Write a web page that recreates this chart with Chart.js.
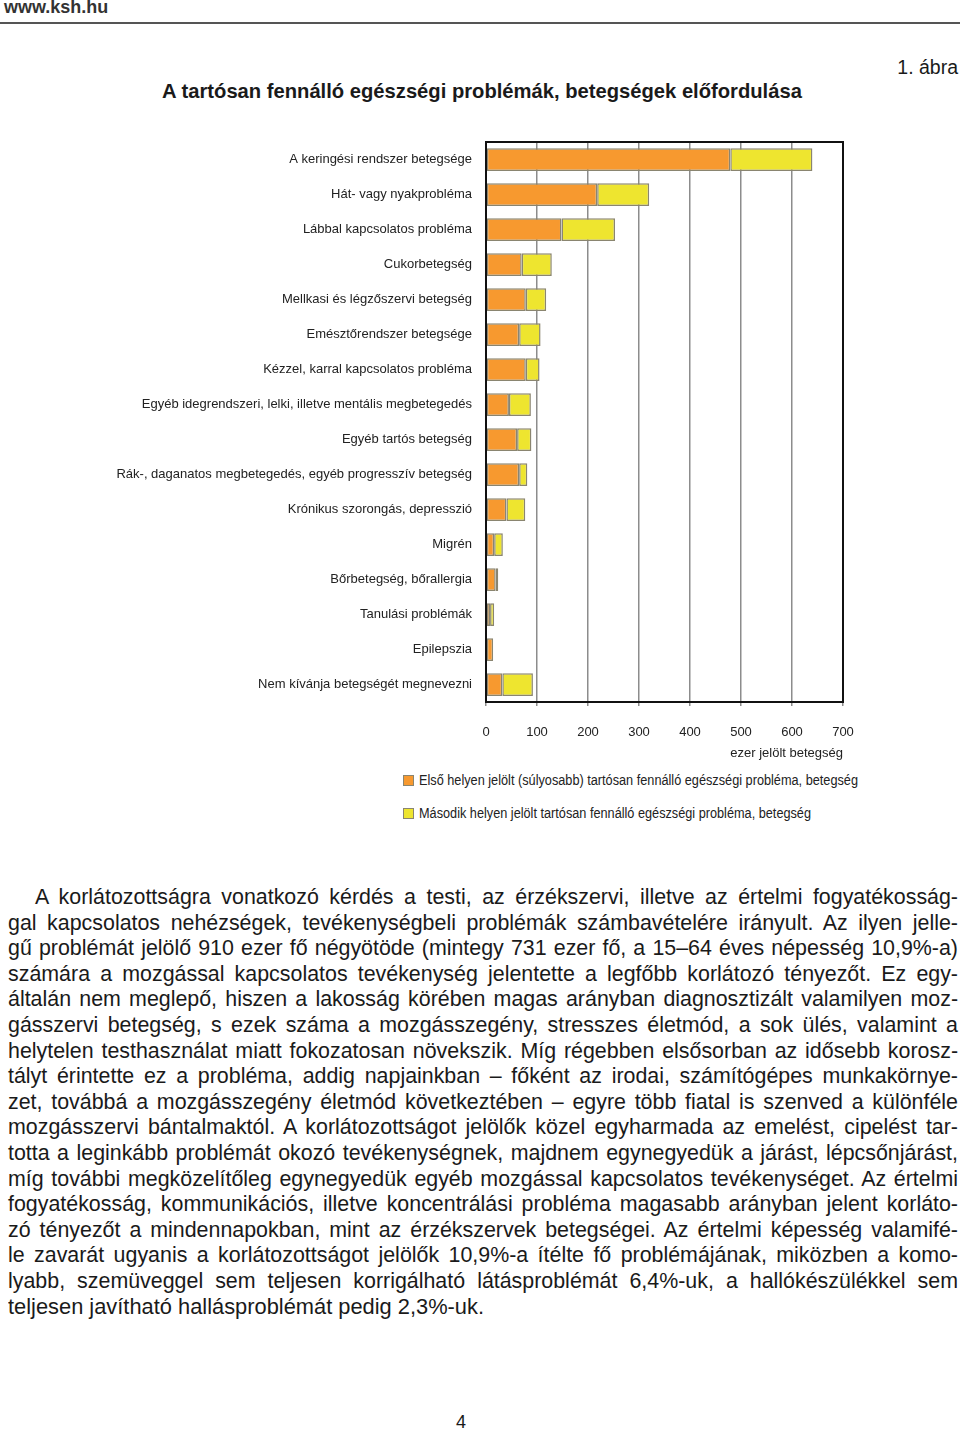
<!DOCTYPE html>
<html><head><meta charset="utf-8">
<script src="https://cdn.jsdelivr.net/npm/chart.js@4.4.0/dist/chart.umd.min.js"></script>
<style>
html,body{margin:0;padding:0;background:#fff;}
body{width:960px;height:1431px;position:relative;overflow:hidden;font-family:'Liberation Sans',Arial,sans-serif;color:#1a1a1a;}
.abs{position:absolute;white-space:nowrap;}
#site{left:4px;top:-3px;font-weight:bold;font-size:18px;color:#333;}
#rule{position:absolute;left:0;top:22px;width:960px;height:2px;background:#555;}
#fig{right:2px;top:56px;font-size:19.5px;}
#title{left:0;width:964px;text-align:center;top:80px;font-weight:bold;font-size:20.2px;}
#chartbox{position:absolute;left:0;top:130px;width:870px;height:632px;}
.leg{left:403px;font-size:14px;color:#222;}
.leg .tx{display:inline-block;transform-origin:0 50%;}
.sw{display:inline-block;width:9px;height:9px;border:1px solid #8a8570;vertical-align:-1px;margin-right:5px;}
.ln{position:absolute;white-space:nowrap;font-size:21.4px;line-height:25.6px;color:#1a1a1a;}
#pg{left:456px;top:1412px;font-size:18px;}
</style>
</head><body>
<div class="abs" id="site">www.ksh.hu</div>
<div id="rule"></div>
<div class="abs" id="fig">1. ábra</div>
<div class="abs" id="title">A tartósan fennálló egészségi problémák, betegségek előfordulása</div>
<div id="chartbox"><canvas id="c"></canvas></div>
<div class="abs leg" id="leg1" style="top:772px;"><span class="sw" style="background:#F7992F"></span><span class="tx"></span></div>
<div class="abs leg" id="leg2" style="top:805px;"><span class="sw" style="background:#EEE52F"></span><span class="tx"></span></div>
<div id="para"></div>
<div class="abs" id="pg">4</div>
<script>
const categories = [
  'A keringési rendszer betegsége',
  'Hát- vagy nyakprobléma',
  'Lábbal kapcsolatos probléma',
  'Cukorbetegség',
  'Mellkasi és légzőszervi betegség',
  'Emésztőrendszer betegsége',
  'Kézzel, karral kapcsolatos probléma',
  'Egyéb idegrendszeri, lelki, illetve mentális megbetegedés',
  'Egyéb tartós betegség',
  'Rák-, daganatos megbetegedés, egyéb progresszív betegség',
  'Krónikus szorongás, depresszió',
  'Migrén',
  'Bőrbetegség, bőrallergia',
  'Tanulási problémák',
  'Epilepszia',
  'Nem kívánja betegségét megnevezni'
];
const firstPlace  = [479, 218, 148, 70, 78, 65, 78, 45, 61, 65, 40, 16, 19, 8, 14, 32];
const secondPlace = [161, 102, 105, 59, 40, 42, 27, 43, 28, 16, 37, 17, 5, 8, 0, 60];
const xTicks = [0, 100, 200, 300, 400, 500, 600, 700];
const seriesNames = [
  'Első helyen jelölt (súlyosabb) tartósan fennálló egészségi probléma, betegség',
  'Második helyen jelölt tartósan fennálló egészségi probléma, betegség'
];
const axisTitle = 'ezer jelölt betegség';

const paraLines = [
  'A korlátozottságra vonatkozó kérdés a testi, az érzékszervi, illetve az értelmi fogyatékosság-',
  'gal kapcsolatos nehézségek, tevékenységbeli problémák számbavételére irányult. Az ilyen jelle-',
  'gű problémát jelölő 910 ezer fő négyötöde (mintegy 731 ezer fő, a 15–64 éves népesség 10,9%-a)',
  'számára a mozgással kapcsolatos tevékenység jelentette a legfőbb korlátozó tényezőt. Ez egy-',
  'általán nem meglepő, hiszen a lakosság körében magas arányban diagnosztizált valamilyen moz-',
  'gásszervi betegség, s ezek száma a mozgásszegény, stresszes életmód, a sok ülés, valamint a',
  'helytelen testhasználat miatt fokozatosan növekszik. Míg régebben elsősorban az idősebb korosz-',
  'tályt érintette ez a probléma, addig napjainkban – főként az irodai, számítógépes munkakörnye-',
  'zet, továbbá a mozgásszegény életmód következtében – egyre több fiatal is szenved a különféle',
  'mozgásszervi bántalmaktól. A korlátozottságot jelölők közel egyharmada az emelést, cipelést tar-',
  'totta a leginkább problémát okozó tevékenységnek, majdnem egynegyedük a járást, lépcsőnjárást,',
  'míg további megközelítőleg egynegyedük egyéb mozgással kapcsolatos tevékenységet. Az értelmi',
  'fogyatékosság, kommunikációs, illetve koncentrálási probléma magasabb arányban jelent korláto-',
  'zó tényezőt a mindennapokban, mint az érzékszervek betegségei. Az értelmi képesség valamifé-',
  'le zavarát ugyanis a korlátozottságot jelölők 10,9%-a ítélte fő problémájának, miközben a komo-',
  'lyabb, szemüveggel sem teljesen korrigálható látásproblémát 6,4%-uk, a hallókészülékkel sem',
  'teljesen javítható hallásproblémát pedig 2,3%-uk.'
];

// legend texts (fitted to the reference widths)
[['leg1', seriesNames[0], 439], ['leg2', seriesNames[1], 392]].forEach(([id, t, target]) => {
  const s = document.querySelector('#' + id + ' .tx');
  s.textContent = t;
  const w = s.getBoundingClientRect().width;
  s.style.transform = 'scaleX(' + (target / w) + ')';
});

// paragraph
const para = document.getElementById('para');
paraLines.forEach((t, i) => {
  const d = document.createElement('div');
  d.className = 'ln';
  const left = i === 0 ? 35 : 8;
  d.style.left = left + 'px';
  d.style.top = (885 + i * 25.6) + 'px';
  const s = document.createElement('span');
  s.textContent = t;
  s.style.display = 'inline-block';
  d.appendChild(s);
  para.appendChild(d);
  const last = i === paraLines.length - 1;
  const target = last ? 476 : 958 - left;
  const w = s.getBoundingClientRect().width;
  const n = (t.match(/ /g) || []).length;
  if (w < target && n > 0 && !last) {
    s.style.wordSpacing = ((target - w) / n) + 'px';
  } else {
    s.style.transformOrigin = '0 0';
    s.style.transform = 'scaleX(' + (target / w) + ')';
  }
});

const fontFam = "'Liberation Sans',Arial,sans-serif";

const framePlugin = {
  id: 'frame',
  afterDatasetsDraw(chart) {
    const {ctx, chartArea: a} = chart;
    ctx.save();
    ctx.strokeStyle = '#111';
    ctx.lineWidth = 2;
    ctx.strokeRect(a.left, a.top, a.right - a.left, a.bottom - a.top);
    ctx.restore();
  }
};

new Chart(document.getElementById('c'), {
  type: 'bar',
  data: {
    labels: categories,
    datasets: [
      {label: seriesNames[0], data: firstPlace, backgroundColor: '#F7992F', borderColor: '#8a8570', borderWidth: 1.5, borderSkipped: false},
      {label: seriesNames[1], data: secondPlace, backgroundColor: '#EEE52F', borderColor: '#8a8570', borderWidth: 1.5, borderSkipped: false}
    ]
  },
  options: {
    indexAxis: 'y',
    responsive: true,
    maintainAspectRatio: false,
    animation: false,
    devicePixelRatio: 1,
    barPercentage: 0.65,
    categoryPercentage: 1,
    layout: {padding: {top: 12, right: 27, left: 0, bottom: 0}},
    plugins: {legend: {display: false}, tooltip: {enabled: false}},
    scales: {
      y: {
        stacked: true,
        grid: {display: false, drawTicks: false, tickLength: 0},
        border: {display: false},
        ticks: {font: {family: fontFam, size: 13}, color: '#222', padding: 14},
        afterFit(scale) { scale.width = 486; scale.paddingTop = 0; scale.paddingBottom = 0; }
      },
      x: {
        stacked: true,
        min: 0, max: 700,
        afterBuildTicks(scale) { scale.ticks = xTicks.map(v => ({value: v})); },
        grid: {color: '#8c8c8c', lineWidth: 1.5, tickLength: 4, drawOnChartArea: true},
        border: {display: false},
        ticks: {font: {family: fontFam, size: 13}, color: '#222', padding: 19, maxRotation: 0},
        title: {display: true, text: axisTitle, align: 'end', color: '#222', font: {family: fontFam, size: 13}, padding: {top: 0, bottom: 1}},
        afterFit(scale) { scale.height = 60; scale.paddingLeft = 0; scale.paddingRight = 0; }
      }
    }
  },
  plugins: [framePlugin]
});
</script>
</body></html>
